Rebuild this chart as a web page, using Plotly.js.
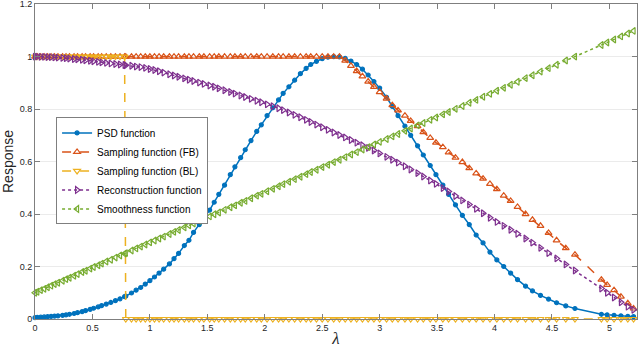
<!DOCTYPE html>
<html>
<head>
<meta charset="utf-8">
<script src="https://cdn.plot.ly/plotly-3.0.1.min.js"></script>
<style>html,body{margin:0;padding:0;background:#fff}#chart{width:640px;height:351px}</style>
</head>
<body>
<div id="chart"></div>
<script>
const lambda = [0, 0.02, 0.05, 0.08, 0.11, 0.14, 0.17, 0.2, 0.24, 0.27, 0.3, 0.34, 0.37, 0.41, 0.44, 0.48, 0.51, 0.55, 0.58, 0.62, 0.66, 0.7, 0.74, 0.78, 0.79, 0.84, 0.88, 0.92, 0.96, 1.0, 1.04, 1.08, 1.12, 1.17, 1.21, 1.25, 1.3, 1.34, 1.38, 1.43, 1.47, 1.52, 1.56, 1.6, 1.65, 1.7, 1.74, 1.79, 1.83, 1.88, 1.93, 1.97, 2.02, 2.07, 2.12, 2.16, 2.21, 2.26, 2.31, 2.36, 2.4, 2.45, 2.5, 2.55, 2.6, 2.65, 2.7, 2.75, 2.8, 2.85, 2.9, 2.95, 3.0, 3.06, 3.11, 3.16, 3.22, 3.27, 3.33, 3.38, 3.44, 3.49, 3.55, 3.6, 3.66, 3.72, 3.78, 3.84, 3.9, 3.96, 4.02, 4.08, 4.14, 4.2, 4.27, 4.33, 4.4, 4.47, 4.54, 4.62, 4.7, 4.93, 4.98, 5.04, 5.1, 5.16, 5.21];

const psd = [0.005, 0.006, 0.007, 0.008, 0.009, 0.010, 0.011, 0.012, 0.014, 0.016, 0.018, 0.021, 0.024, 0.028, 0.032, 0.037, 0.041, 0.046, 0.051, 0.057, 0.063, 0.07, 0.077, 0.085, 0.087, 0.099, 0.11, 0.12, 0.133, 0.146, 0.16, 0.175, 0.19, 0.21, 0.23, 0.25, 0.28, 0.30, 0.33, 0.36, 0.385, 0.415, 0.445, 0.475, 0.51, 0.55, 0.58, 0.615, 0.645, 0.68, 0.715, 0.74, 0.775, 0.805, 0.835, 0.86, 0.885, 0.91, 0.935, 0.955, 0.97, 0.982, 0.992, 0.998, 1.0, 0.999, 0.993, 0.983, 0.97, 0.952, 0.93, 0.905, 0.88, 0.845, 0.81, 0.775, 0.735, 0.70, 0.66, 0.625, 0.585, 0.55, 0.51, 0.475, 0.435, 0.395, 0.36, 0.32, 0.29, 0.255, 0.225, 0.2, 0.175, 0.15, 0.125, 0.107, 0.09, 0.076, 0.062, 0.05, 0.04, 0.018, 0.016, 0.014, 0.012, 0.01, 0.009];

const samplingFB = [1, 1, 1, 1, 1, 1, 1, 1, 1, 1, 1, 1, 1, 1, 1, 1, 1, 1, 1, 1, 1, 1, 1, 1, 1, 1, 1, 1, 1, 1, 1, 1, 1, 1, 1, 1, 1, 1, 1, 1, 1, 1, 1, 1, 1, 1, 1, 1, 1, 1, 1, 1, 1, 1, 1, 1, 1, 1, 1, 1, 1, 1, 1, 1, 1, 1, 0.985, 0.965, 0.945, 0.925, 0.905, 0.885, 0.865, 0.84, 0.815, 0.795, 0.775, 0.755, 0.735, 0.712, 0.69, 0.672, 0.655, 0.635, 0.615, 0.598, 0.575, 0.555, 0.535, 0.515, 0.495, 0.47, 0.45, 0.427, 0.4, 0.378, 0.355, 0.328, 0.3, 0.27, 0.245, 0.15, 0.13, 0.11, 0.085, 0.06, 0.04];

const samplingBL = [1, 1, 1, 1, 1, 1, 1, 1, 1, 1, 1, 1, 1, 1, 1, 1, 1, 1, 1, 1, 1, 1, 1, 1, 0, 0, 0, 0, 0, 0, 0, 0, 0, 0, 0, 0, 0, 0, 0, 0, 0, 0, 0, 0, 0, 0, 0, 0, 0, 0, 0, 0, 0, 0, 0, 0, 0, 0, 0, 0, 0, 0, 0, 0, 0, 0, 0, 0, 0, 0, 0, 0, 0, 0, 0, 0, 0, 0, 0, 0, 0, 0, 0, 0, 0, 0, 0, 0, 0, 0, 0, 0, 0, 0, 0, 0, 0, 0, 0, 0, 0, 0, 0, 0, 0, 0, 0];

const reconstruction = [1.0, 1.0, 0.999, 0.999, 0.998, 0.998, 0.997, 0.996, 0.995, 0.994, 0.993, 0.991, 0.99, 0.988, 0.986, 0.984, 0.982, 0.98, 0.978, 0.976, 0.974, 0.972, 0.970, 0.968, 0.967, 0.965, 0.962, 0.96, 0.957, 0.953, 0.949, 0.944, 0.939, 0.933, 0.928, 0.923, 0.917, 0.912, 0.907, 0.901, 0.896, 0.89, 0.885, 0.879, 0.872, 0.865, 0.859, 0.852, 0.846, 0.839, 0.832, 0.826, 0.818, 0.811, 0.803, 0.796, 0.787, 0.778, 0.769, 0.759, 0.751, 0.741, 0.731, 0.721, 0.711, 0.701, 0.692, 0.682, 0.672, 0.662, 0.652, 0.642, 0.631, 0.618, 0.607, 0.596, 0.582, 0.57, 0.556, 0.543, 0.528, 0.515, 0.499, 0.486, 0.469, 0.452, 0.436, 0.42, 0.403, 0.386, 0.37, 0.355, 0.34, 0.325, 0.307, 0.291, 0.271, 0.251, 0.231, 0.208, 0.185, 0.116, 0.1, 0.082, 0.064, 0.047, 0.035];

const smoothness = [0.1, 0.104, 0.11, 0.115, 0.121, 0.127, 0.133, 0.138, 0.146, 0.152, 0.157, 0.165, 0.171, 0.179, 0.184, 0.192, 0.198, 0.205, 0.211, 0.219, 0.226, 0.234, 0.242, 0.249, 0.251, 0.261, 0.269, 0.276, 0.284, 0.292, 0.299, 0.307, 0.314, 0.324, 0.332, 0.339, 0.349, 0.357, 0.364, 0.374, 0.382, 0.391, 0.399, 0.406, 0.416, 0.426, 0.433, 0.443, 0.45, 0.46, 0.47, 0.477, 0.487, 0.496, 0.506, 0.514, 0.523, 0.533, 0.542, 0.552, 0.56, 0.569, 0.579, 0.588, 0.598, 0.607, 0.617, 0.627, 0.636, 0.646, 0.655, 0.665, 0.675, 0.686, 0.696, 0.705, 0.717, 0.726, 0.738, 0.747, 0.759, 0.768, 0.78, 0.789, 0.801, 0.812, 0.824, 0.835, 0.847, 0.858, 0.87, 0.881, 0.893, 0.904, 0.918, 0.929, 0.943, 0.956, 0.969, 0.985, 1.0, 1.044, 1.054, 1.065, 1.077, 1.088, 1.098];

const seriesNames = ['PSD function', 'Sampling function (FB)', 'Sampling function (BL)', 'Reconstruction function', 'Smoothness function'];
const xTickVals = [0, 0.5, 1, 1.5, 2, 2.5, 3, 3.5, 4, 4.5, 5];
const xTickText = ['0', '0.5', '1', '1.5', '2', '2.5', '3', '3.5', '4', '4.5', '5'];
const yTickVals = [0, 0.2, 0.4, 0.6, 0.8, 1, 1.2];
const yTickText = ['0', '0.2', '0.4', '0.6', '0.8', '1', '1.2'];

const colors = ['#0072BD', '#D95319', '#EDB120', '#7E2F8E', '#77AC30'];
const symbols = ['circle', 'triangle-up-open', 'triangle-down-open', 'triangle-right-open', 'triangle-left-open'];
const dashes = ['solid', 'dash', 'dash', 'dot', 'dot'];
const sizes = [4, 6, 6, 6, 6];
const ys = [psd, samplingFB, samplingBL, reconstruction, smoothness];

const traces = ys.map((y, i) => ({
  x: lambda, y: y, name: seriesNames[i], type: 'scatter', mode: 'lines+markers',
  cliponaxis: false,
  line: {color: colors[i], width: 1.5, dash: dashes[i]},
  marker: {symbol: symbols[i], size: sizes[i], color: colors[i], line: {color: colors[i], width: 1.2}}
}));

const axisCommon = {
  showline: true, linecolor: '#7f7f7f', linewidth: 1, mirror: 'ticks',
  ticks: 'inside', ticklen: 5, tickcolor: '#7f7f7f', tickwidth: 1,
  zeroline: false, ticklabeloverflow: 'allow',
  tickfont: {family: 'Liberation Sans, Arial, sans-serif', size: 9, color: '#262626'}
};

const layout = {
  width: 640, height: 351,
  margin: {l: 35, r: 3, t: 4, b: 32},
  paper_bgcolor: '#fff', plot_bgcolor: '#fff',
  showlegend: true,
  legend: {
    x: 0.035, y: 0.64, xanchor: 'left', yanchor: 'top',
    bgcolor: '#fff', bordercolor: '#7f7f7f', borderwidth: 1,
    font: {family: 'Liberation Sans, Arial, sans-serif', size: 10, color: '#000'},
    tracegroupgap: 0, itemwidth: 30
  },
  xaxis: Object.assign({}, axisCommon, {
    range: [0, 5.24], tickvals: xTickVals, ticktext: xTickText, showgrid: false,
    title: {text: '<i>λ</i>', font: {family: 'Liberation Serif, Times New Roman, serif', size: 17, color: '#262626'}, standoff: 0}
  }),
  yaxis: Object.assign({}, axisCommon, {
    range: [0, 1.2005], tickvals: yTickVals, ticktext: yTickText, showgrid: true, gridcolor: '#ebebeb', gridwidth: 1,
    title: {text: 'Response', font: {family: 'Liberation Sans, Arial, sans-serif', size: 14, color: '#262626'}, standoff: 6}
  })
};

Plotly.newPlot('chart', traces, layout, {displayModeBar: false, staticPlot: true});
</script>
</body>
</html>
